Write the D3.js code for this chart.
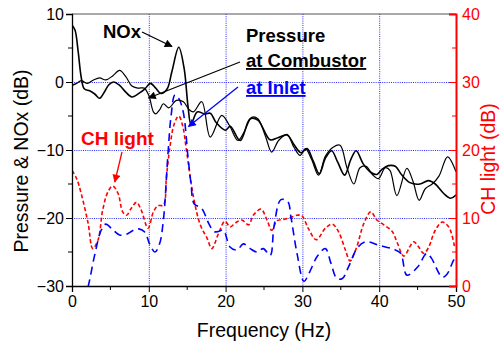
<!DOCTYPE html>
<html>
<head>
<meta charset="utf-8">
<script src="https://cdn.jsdelivr.net/npm/d3@7"></script>
<style>
  body { margin: 0; background: #fff; }
  text { font-family: Arial, "Liberation Sans", sans-serif; }
</style>
</head>
<body>
<svg id="chart" width="500" height="345"></svg>
<script>
// frequency (Hz), dB values
const noxPts = [
  [0, 8.4], [0.4, 7.6], [0.8, 4.5], [1.2, 0.7], [1.6, -1.0], [2.3, -1.3], [3.0, -1.8], [3.6, -2.4],
  [4.2, -1.5], [4.8, -0.4], [5.4, 0.0], [6.2, -0.5], [7.0, -1.5], [7.8, -2.2], [8.8, -1.6],
  [9.5, -1.0], [10.2, -0.2], [10.9, -0.9], [11.6, -1.7], [12.4, -1.0], [13.0, 1.5], [13.9, 5.1],
  [14.6, 2.0], [15.1, -3.5], [15.5, -6.2], [16.3, -4.4], [17.3, -4.7], [18.0, -4.6], [18.8, -6.0],
  [20.0, -7.1], [20.6, -6.5], [21.9, -8.6], [23.2, -5.4], [24.2, -5.6], [25.8, -8.5],
  [26.8, -8.2], [28.0, -7.8], [28.9, -9.2], [29.8, -10.4], [30.6, -9.8], [31.4, -11.6], [32.2, -13.5],
  [33.0, -11.2], [33.8, -10.1], [34.6, -11.8], [35.5, -13.7], [36.3, -11.4], [37.0, -10.1],
  [37.9, -12.0], [38.8, -13.2], [39.7, -13.6], [40.4, -12.8], [41.2, -12.3], [42.1, -12.4],
  [42.9, -13.6], [44.0, -14.8], [45.3, -15.0], [46.4, -14.5], [47.3, -15.0], [48.4, -16.4],
  [49.3, -17.1], [50, -16.6]
];
const combPts = [
  [0, -0.5], [0.6, -0.2], [1.2, 0.2], [2.0, -0.2], [2.8, 0.3], [3.6, 0.6], [4.4, 0.3], [5.3, 0.9],
  [6.2, 1.7], [7.0, 0.8], [7.8, -0.6], [8.6, -0.9], [9.4, -0.9], [10.0, -2.0], [10.6, -4.4],
  [10.9, -4.7], [11.4, -4.1], [11.9, -3.2], [12.6, -3.8], [13.6, -2.7], [14.5, -2.9], [15.2, -4.0],
  [15.8, -4.4], [16.9, -2.9], [18.0, -8.1], [19.5, -4.9], [20.5, -6.4],
  [21.6, -8.6], [22.4, -7.4], [23.4, -5.2], [24.2, -5.4], [25.2, -8.0], [26.0, -10.3], [26.9, -8.6],
  [28.0, -7.7], [28.9, -9.6], [29.7, -10.8], [30.4, -9.8], [31.2, -11.4], [32.1, -13.7], [33.0, -10.9],
  [34.0, -9.6], [34.9, -9.3], [35.8, -12.6], [36.7, -15.0], [37.5, -12.6], [38.3, -12.4],
  [39.1, -13.6], [39.9, -14.2], [40.8, -12.6], [41.4, -13.0], [42.3, -16.7], [43.6, -12.7],
  [44.4, -14.6], [45.2, -17.4], [46.0, -15.7], [46.9, -15.0], [47.8, -13.8], [48.9, -11.0], [50, -13.2]
];
const inletPts = [
  [1.6, -32], [2.1, -30.1], [3.0, -25.2], [3.8, -21.8], [4.4, -20.9], [5.2, -21.6], [6.2, -22.5],
  [7.1, -22.4], [8.0, -21.8], [8.7, -21.6], [9.5, -22.1], [10.1, -23.8], [10.8, -25.0], [11.4, -23.8],
  [11.9, -20.3], [12.5, -10.5], [12.9, -5.0], [13.4, -1.9], [13.9, -2.4], [14.5, -4.5], [15.1, -11.0],
  [15.5, -15.0], [15.9, -17.9], [16.9, -18.6], [17.8, -20.8], [18.5, -22.0], [19.0, -22.0],
  [19.7, -21.8], [20.6, -24.3], [21.5, -24.7], [22.3, -23.8], [23.2, -24.5], [24.1, -25.0],
  [24.9, -24.5], [25.8, -25.5], [26.3, -21.3], [27.2, -17.3], [28.1, -17.6], [28.5, -19.8],
  [29.3, -25.2], [30.2, -29.3], [31.0, -27.8], [31.9, -25.7], [33.0, -24.5], [33.7, -26.6],
  [34.5, -28.9], [35.2, -28.9], [36.0, -27.2], [37.1, -24.5], [38.2, -23.5], [39.9, -24.0],
  [41.9, -24.6], [42.8, -25.2], [43.6, -28.4], [45.0, -27.2], [46.2, -25.2], [46.8, -25.9],
  [48.2, -28.7], [48.8, -28.3], [49.7, -26.2], [50, -25.8]
];
// CH light, right axis
const chPts = [
  [0, 17.0], [0.6, 15.8], [1.2, 13.6], [2.1, 9.2], [2.7, 5.5], [3.4, 6.8], [4.0, 11.2], [4.7, 13.9],
  [5.3, 14.7], [6.0, 13.6], [6.6, 10.9], [7.1, 10.4], [7.7, 11.4], [8.4, 12.3], [9.0, 11.2],
  [9.9, 8.5], [10.6, 10.9], [11.2, 11.8], [11.9, 11.9], [12.3, 16.1], [12.7, 20.0], [13.3, 23.8],
  [13.9, 25.0], [14.4, 23.6], [14.9, 20.0], [15.8, 13.2], [16.7, 9.0], [17.6, 7.0], [18.2, 5.5],
  [19.1, 7.8], [19.9, 9.5], [20.6, 8.7], [21.3, 9.3], [22.1, 9.7], [23.0, 9.0], [23.6, 10.4],
  [24.6, 11.3], [25.4, 9.7], [26.0, 8.2], [26.7, 9.6], [27.6, 9.8], [28.5, 10.1], [29.3, 10.4],
  [29.9, 10.4], [30.8, 8.4], [31.8, 6.8], [33.0, 8.5], [33.9, 9.1], [34.7, 8.0], [35.6, 5.3],
  [36.2, 3.7], [37.0, 5.5], [38.0, 9.2], [38.9, 10.9], [39.7, 9.7], [40.6, 9.0], [41.7, 8.0],
  [42.3, 6.5], [43.2, 4.4], [44.1, 6.0], [44.5, 6.5], [45.1, 5.8], [45.8, 4.8], [46.4, 5.6],
  [47.3, 8.2], [48.2, 9.4], [49.1, 8.6], [49.8, 5.8]
];
const xTicks = [0, 10, 20, 30, 40, 50];
const yLeftTicks = [-30, -20, -10, 0, 10];
const yRightTicks = [0, 10, 20, 30, 40];

const svg = d3.select('#chart');
const m = { left: 72, right: 456, top: 14, bottom: 286 };

const x = d3.scaleLinear().domain([0, 50]).range([m.left, m.right]);
const yL = d3.scaleLinear().domain([-30, 10]).range([m.bottom, m.top]);
const yR = d3.scaleLinear().domain([0, 40]).range([m.bottom, m.top]);

const defs = svg.append('defs');
defs.append('clipPath').attr('id', 'plot')
  .append('rect').attr('x', m.left).attr('y', m.top).attr('width', m.right - m.left).attr('height', m.bottom - m.top);

function marker(id, color) {
  defs.append('marker')
    .attr('id', id).attr('viewBox', '0 0 10 10').attr('refX', 9).attr('refY', 5)
    .attr('markerWidth', 10).attr('markerHeight', 8).attr('markerUnits', 'userSpaceOnUse')
    .attr('orient', 'auto')
    .append('path').attr('d', 'M0,0 L10,5 L0,10 z').attr('fill', color);
}
marker('arK', '#000');
marker('arB', '#0000ff');
marker('arR', '#ff0000');

// grid
const grid = svg.append('g').attr('stroke', '#2a2aff').attr('stroke-width', 1).attr('stroke-dasharray', '1,1.2');
grid.selectAll('line.v').data([10, 20, 30, 40]).enter().append('line')
  .attr('x1', d => x(d) + 0.5).attr('x2', d => x(d) + 0.5).attr('y1', m.top).attr('y2', m.bottom);
grid.selectAll('line.h').data([-20, -10, 0]).enter().append('line')
  .attr('y1', d => yL(d) + 0.5).attr('y2', d => yL(d) + 0.5).attr('x1', m.left).attr('x2', m.right);

// top frame
svg.append('line').attr('x1', m.left).attr('x2', m.right).attr('y1', m.top).attr('y2', m.top)
  .attr('stroke', '#555').attr('stroke-width', 1.2);

const plot = svg.append('g').attr('clip-path', 'url(#plot)');
const line = sc => d3.line().x(d => x(d[0])).y(d => sc(d[1])).curve(d3.curveCatmullRom.alpha(0.5));

plot.append('path').datum(chPts).attr('d', line(yR)).attr('fill', 'none')
  .attr('stroke', '#ff0000').attr('stroke-width', 1.6).attr('stroke-dasharray', '4,2.5');
plot.append('path').datum(inletPts).attr('d', line(yL)).attr('fill', 'none')
  .attr('stroke', '#0000ff').attr('stroke-width', 1.6).attr('stroke-dasharray', '8,5');
plot.append('path').datum(combPts).attr('d', line(yL)).attr('fill', 'none')
  .attr('stroke', '#000').attr('stroke-width', 1.2);
plot.append('path').datum(noxPts).attr('d', line(yL)).attr('fill', 'none')
  .attr('stroke', '#000').attr('stroke-width', 1.6);

// axes
const fs = '16px';
const ax = d3.axisBottom(x).tickValues(xTicks).tickSize(6).tickPadding(4);
const gx = svg.append('g').attr('transform', `translate(0,${m.bottom})`).call(ax);
gx.append('g').selectAll('line').data([5, 15, 25, 35, 45]).enter().append('line')
  .attr('x1', d => x(d)).attr('x2', d => x(d)).attr('y1', 0).attr('y2', 4).attr('stroke', '#000');

const ayl = d3.axisLeft(yL).tickValues(yLeftTicks).tickSize(6).tickPadding(2);
const gyl = svg.append('g').attr('transform', `translate(${m.left},0)`).call(ayl);
gyl.append('g').selectAll('line').data([5, -5, -15, -25]).enter().append('line')
  .attr('y1', d => yL(d)).attr('y2', d => yL(d)).attr('x1', 0).attr('x2', -4).attr('stroke', '#000');

const ayr = d3.axisRight(yR).tickValues(yRightTicks).tickSize(-7).tickPadding(6);
const gyr = svg.append('g').attr('transform', `translate(${m.right},0)`).call(ayr);
gyr.append('g').selectAll('line').data([5, 15, 25, 35]).enter().append('line')
  .attr('y1', d => yR(d)).attr('y2', d => yR(d)).attr('x1', 0).attr('x2', -4).attr('stroke', '#ff0000');

[gx, gyl, gyr].forEach(g => {
  g.selectAll('text').attr('font-size', fs).attr('font-family', 'Arial, "Liberation Sans", sans-serif');
  g.select('.domain').attr('stroke-width', 1.3);
});
gx.selectAll('line,path').attr('stroke', '#000');
gyl.selectAll('line,path').attr('stroke', '#000');
gyr.selectAll('line,path').attr('stroke', '#ff0000');
gyr.select('.domain').attr('stroke-width', 2);
gyr.selectAll('text').attr('fill', '#ff0000');

// axis titles
svg.append('text').attr('x', 264).attr('y', 337).attr('text-anchor', 'middle')
  .attr('font-size', '19.5px').text('Frequency (Hz)');
svg.append('text').attr('transform', 'translate(28,161) rotate(-90)').attr('text-anchor', 'middle')
  .attr('font-size', '19.5px').text('Pressure & NOx (dB)');
svg.append('text').attr('transform', 'translate(495,159) rotate(-90)').attr('text-anchor', 'middle')
  .attr('font-size', '19.5px').attr('fill', '#ff0000').text('CH light (dB)');

// annotations
const ann = svg.append('g').attr('font-weight', 'bold').attr('font-size', '18.5px');
ann.append('text').attr('x', 103).attr('y', 38).attr('fill', '#000').text('NOx');
ann.append('text').attr('x', 246).attr('y', 42).attr('fill', '#000').text('Pressure');
ann.append('text').attr('x', 246).attr('y', 67).attr('fill', '#000').attr('text-decoration', 'underline').text('at Combustor');
ann.append('text').attr('x', 246).attr('y', 94).attr('fill', '#0000ff').attr('text-decoration', 'underline').text('at Inlet');
ann.append('text').attr('x', 81).attr('y', 145).attr('fill', '#ff0000').attr('font-size', '19px').text('CH light');

function arrow(x1, y1, x2, y2, color, id) {
  svg.append('line').attr('x1', x1).attr('y1', y1).attr('x2', x2).attr('y2', y2)
    .attr('stroke', color).attr('stroke-width', 1.3).attr('marker-end', `url(#${id})`);
}
arrow(142, 32, 172, 46.5, '#000', 'arK');
arrow(240, 62, 148.5, 98, '#000', 'arK');
arrow(238, 87, 188.5, 126.5, '#0000ff', 'arB');
arrow(122, 152, 114.8, 182, '#ff0000', 'arR');
</script>
</body>
</html>
